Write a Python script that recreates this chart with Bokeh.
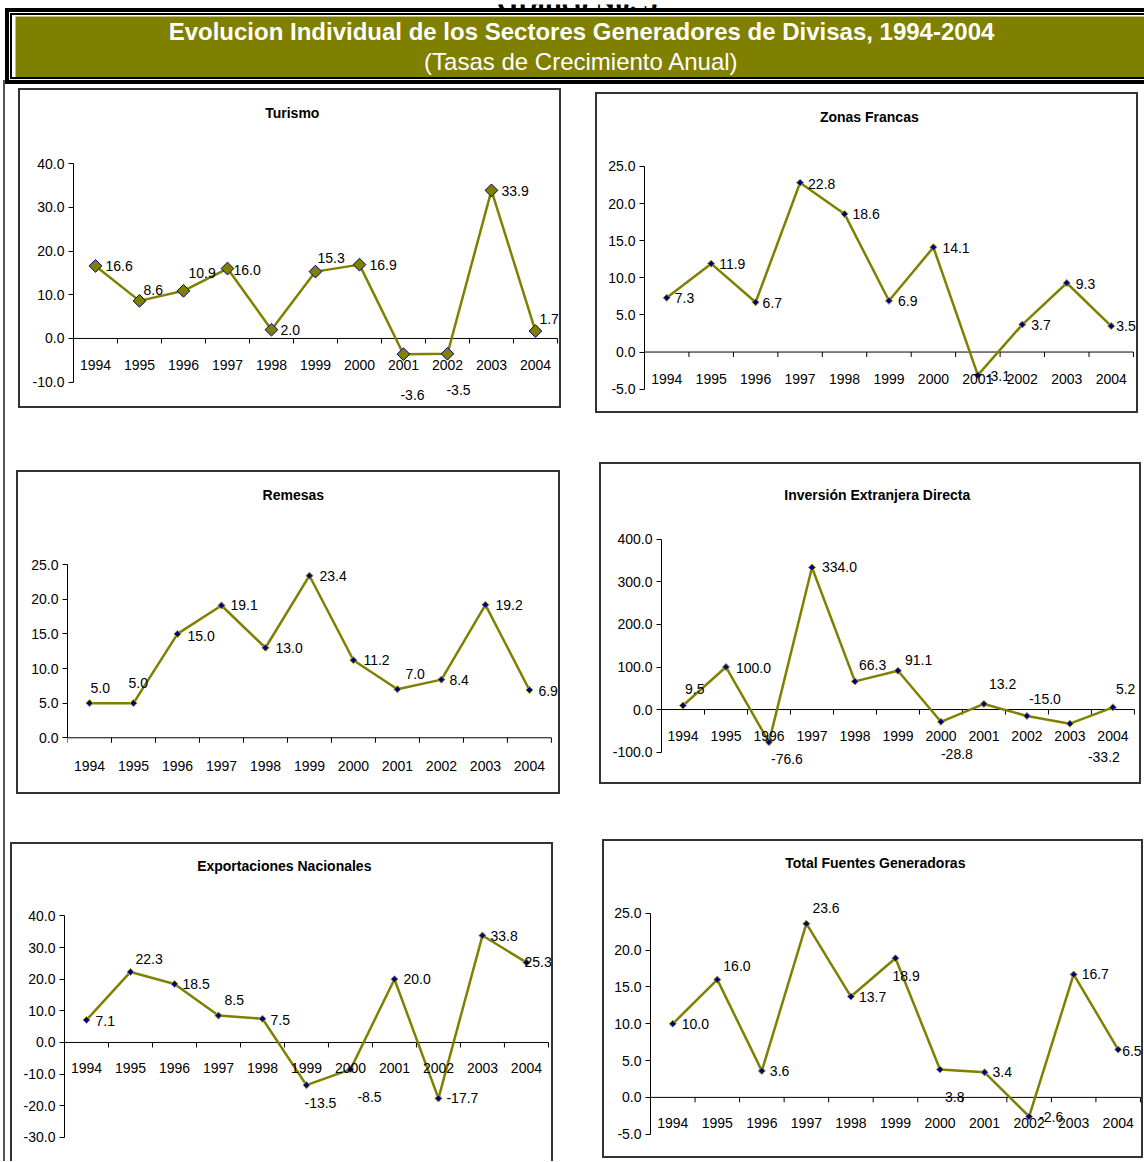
from math import pi
from bokeh.plotting import figure
from bokeh.models import (Range1d, FixedTicker, NumeralTickFormatter, Label, LabelSet,
                          ColumnDataSource)
from bokeh.layouts import column, row
from bokeh.embed import file_html
from bokeh.resources import INLINE
from bokeh.core.properties import value

# ---------------- data ----------------
years = ["1994", "1995", "1996", "1997", "1998", "1999", "2000", "2001", "2002", "2003", "2004"]
turismo = [16.6, 8.6, 10.9, 16.0, 2.0, 15.3, 16.9, -3.6, -3.5, 33.9, 1.7]
zonas_francas = [7.3, 11.9, 6.7, 22.8, 18.6, 6.9, 14.1, -3.1, 3.7, 9.3, 3.5]
remesas = [5.0, 5.0, 15.0, 19.1, 13.0, 23.4, 11.2, 7.0, 8.4, 19.2, 6.9]
inversion = [9.5, 100.0, -76.6, 334.0, 66.3, 91.1, -28.8, 13.2, -15.0, -33.2, 5.2]
exportaciones = [7.1, 22.3, 18.5, 8.5, 7.5, -13.5, -8.5, 20.0, -17.7, 33.8, 25.3]
total = [10.0, 16.0, 3.6, 23.6, 13.7, 18.9, 3.8, 3.4, -2.6, 16.7, 6.5]

# y-axis (min, max, step)
turismo_axis = (-10, 40, 10)
zonas_axis = (-5, 25, 5)
remesas_axis = (0, 25, 5)
inversion_axis = (-100, 400, 100)
export_axis = (-30, 40, 10)
total_axis = (-5, 25, 5)

page_title = "Grafico No. 5"
main_title = "Evolucion Individual de los Sectores Generadores de Divisas, 1994-2004"
sub_title = "(Tasas de Crecimiento Anual)"

# ---------------- styles ----------------
OLIVE = "#808000"
NAVY = "#000080"
FONT = "Liberation Sans"
FS = "14px"
PB = 2  # panel border width (css, inside the element box)

# category slots on a numeric scale: slot i is centred at i + 0.5
slots = [i + 0.5 for i in range(len(years))]
bounds_x = list(range(len(years) + 1))


def panel(title, vals, axis, box, frame, title_c, dx, dy, cat_off, big, margin, open_bottom=False):
    bl, bt, br, bb = box           # outer box of the panel (page px)
    fl, ft, fr, fb = frame         # y-axis x, y(max), last category edge, y(min)
    ymin, ymax, step = axis
    n = len(years)
    ppx = (fr - fl) / n
    ppu = (fb - ft) / (ymax - ymin)
    cl, ct, cr = bl + PB, bt + PB, br - PB
    cb = bb if open_bottom else bb - PB
    x_end = n + (cr - fr) / ppx
    y_start = ymin - (cb - fb) / ppu
    y_end = ymax + (ft - ct) / ppu
    styles = {"border": f"{PB}px solid #333"}
    if open_bottom:
        styles["border-bottom"] = "none"
    p = figure(width=br - bl, height=bb - bt,
               x_range=Range1d(0, x_end), y_range=Range1d(y_start, y_end),
               output_backend="svg", toolbar_location=None, x_axis_location=None, title=None,
               min_border_left=round(fl - cl), min_border_right=0,
               min_border_top=0, min_border_bottom=0,
               margin=margin, styles=styles)
    p.grid.visible = False
    p.outline_line_color = None
    p.background_fill_color = "white"
    p.border_fill_color = "white"
    # title
    p.add_layout(Label(x=(title_c[0] - fl) / ppx, y=ymax + (ft - title_c[1]) / ppu,
                       text=title, text_align="center", text_baseline="middle",
                       text_font=FONT, text_font_style="bold", text_font_size=FS,
                       text_color="black"))
    # y axis
    ax = p.yaxis[0]
    ax.ticker = FixedTicker(ticks=list(range(ymin, ymax + 1, step)))
    ax.formatter = NumeralTickFormatter(format="0.0")
    ax.bounds = (ymin, ymax)
    ax.major_tick_out = 5
    ax.major_tick_in = 0
    ax.minor_tick_line_color = None
    ax.axis_line_color = "black"
    ax.major_tick_line_color = "black"
    ax.major_label_standoff = 4
    ax.major_label_text_font = FONT
    ax.major_label_text_font_size = FS
    ax.major_label_text_color = "black"
    # category axis drawn at zero
    p.segment(x0=[bounds_x[0]], y0=[0], x1=[bounds_x[-1]], y1=[0], line_color="black", line_width=1)
    p.ray(x=bounds_x, y=0, length=5, length_units="screen",
          angle=-pi / 2, line_color="black", line_width=1)
    cat_src = ColumnDataSource(dict(x=slots, y=[0] * len(years), text=years))
    p.add_layout(LabelSet(x="x", y="y", text="text", source=cat_src, y_offset=-cat_off,
                          text_align="center", text_baseline="middle", text_font=value(FONT),
                          text_font_size=value(FS), text_color="black"))
    # series
    p.line(slots, vals, line_color=OLIVE, line_width=2.5)
    if big:
        p.scatter(slots, vals, marker="square", angle=pi / 4, size=9,
                  fill_color=OLIVE, line_color=NAVY, line_width=1)
    else:
        p.scatter(slots, vals, marker="square", angle=pi / 4, size=5,
                  fill_color=NAVY, line_color="#a0a020", line_width=1)
    src = ColumnDataSource(dict(x=slots, y=vals, text=[f"{v:.1f}" for v in vals],
                                dx=dx, dy=[-d for d in dy]))
    p.add_layout(LabelSet(x="x", y="y", text="text", source=src, x_offset="dx", y_offset="dy",
                          text_align="left", text_baseline="middle", text_font=value(FONT),
                          text_font_size=value(FS), text_color="black"))
    return p


SHIFT = 8  # compensates the page offset seen in the render

# ---------------- page title (only its lower edge shows, as in the source) ----------------
top = figure(width=240, height=8, x_range=Range1d(0, 240), y_range=Range1d(0, 8),
             x_axis_location=None, y_axis_location=None, title=None,
             output_backend="svg", toolbar_location=None, min_border=0,
             background_fill_color="white", border_fill_color="white",
             outline_line_color=None, margin=(SHIFT, 0, 0, 455 + SHIFT))
top.grid.visible = False
top.add_layout(Label(x=120, y=11, text=page_title, text_align="center",
                     text_baseline="alphabetic", text_color="black",
                     text_font="Liberation Serif", text_font_style="bold",
                     text_font_size="28px"))

# ---------------- banner ----------------
BW, BH = 1129, 60  # olive frame size (page x 15..1144, y 16..76)
banner = figure(width=1134, height=66, x_range=Range1d(0, BW), y_range=Range1d(0, BH),
                x_axis_location=None, y_axis_location=None, title=None,
                output_backend="svg", toolbar_location=None,
                min_border_left=3, min_border_top=1, min_border_bottom=1, min_border_right=0,
                background_fill_color=OLIVE, border_fill_color="white",
                outline_line_color=None, margin=(5, 0, 0, 10 + SHIFT),
                styles={"border-top": "2px solid black", "border-left": "2px solid black",
                        "border-bottom": "2px solid black",
                        "box-shadow": "0 0 0 1px white, 0 0 0 5px black"})
banner.grid.visible = False
banner.add_layout(Label(x=580 - 15, y=76 - 30, text=main_title,
                        text_align="center", text_baseline="middle", text_color="white",
                        text_font=FONT, text_font_style="bold", text_font_size="24px"))
banner.add_layout(Label(x=580 - 15, y=76 - 58.5, text=sub_title,
                        text_align="center", text_baseline="middle", text_color="white",
                        text_font=FONT, text_font_style="normal", text_font_size="24px"))

# ---------------- panels ----------------
p1 = panel("Turismo", turismo, turismo_axis, (18, 88, 561, 408), (73, 162.3, 553, 378), (290, 112),
           [10, 4, 5, 6, 9, 2, 10, -3, -1, 10, 4], [0, -11, -18, 1, 0, -14, 0, 41, 36, 1, -12],
           27, True, (8, 0, 0, 13))
p2 = panel("Zonas Francas", zonas_francas, zonas_axis, (595, 92, 1138, 413), (644, 165, 1129, 385),
           (867, 116),
           [8, 8, 7, 8, 8, 9, 9, 8, 9, 9, 5], [0, 0, 1, 1, 0, 0, 1, 1, 0, 1, 0],
           27, False, (12, 0, 0, 34))
p3 = panel("Remesas", remesas, remesas_axis, (16, 470, 560, 794), (67, 563, 547, 734), (291, 494),
           [1, -5, 10, 9, 10, 10, 10, 8, 8, 10, 9], [-15, -20, 2, 0, 0, 0, 0, -15, 0, 0, 1],
           28, False, (57, 0, 0, 11))
p4 = panel("Inversión Extranjera Directa", inversion, inversion_axis, (599, 462, 1141, 784),
           (661, 538, 1130, 748), (875, 494),
           [2, 10, 2, 10, 4, 7, 0, 5, 2, 18, 3], [-17, 1, 17, 0, -16, -11, 32, -20, -17, 33, -18],
           26, False, (49, 0, 0, 39))
p5 = panel("Exportaciones Nacionales", exportaciones, export_axis, (10, 842, 553, 1161),
           (64, 915, 544, 1135), (282, 865),
           [9, 5, 8, 6, 8, -2, 7, 9, 8, 8, -2], [1, -13, 0, -16, 1, 18, 28, 0, 0, 0, 0],
           26, False, (48, 0, 0, 5), open_bottom=True)
p6 = panel("Total Fuentes Generadoras", total, total_axis, (602, 839, 1143, 1158),
           (650, 912, 1136, 1130), (873, 862),
           [9, 6, 8, 6, 8, -3, 5, 8, 10, 8, 4], [0, -14, 0, -16, 0, 18, 28, 0, 0, 0, 1],
           26, False, (45, 0, 0, 49))

content = column(row(p1, p2), row(p3, p4), row(p5, p6), margin=(1, 0, 0, 3 + SHIFT),
                 styles={"border-left": "2px solid #555"})
root = column(top, banner, content, margin=(-8, 0, 0, -8))

open("out.html", "w").write(file_html(root, INLINE))
